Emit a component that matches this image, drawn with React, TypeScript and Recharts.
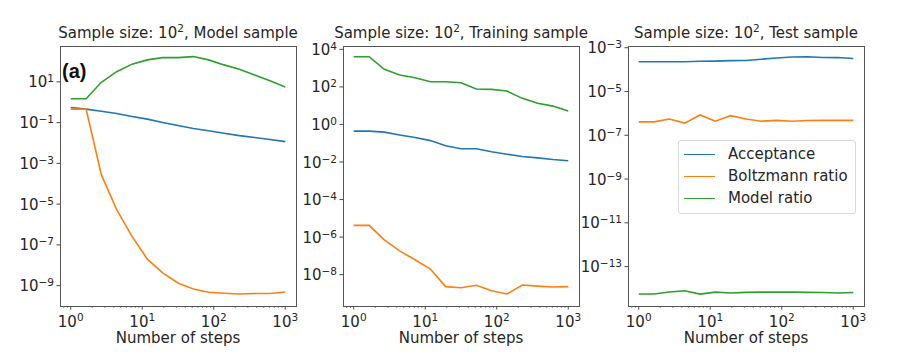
import { LineChart, Line, XAxis, YAxis, Legend } from 'recharts'

const FONT = '"DejaVu Sans", sans-serif'
const TEXT = '#262626'
const BLUE = '#1f77b4'
const ORANGE = '#ff7f0e'
const GREEN = '#2ca02c'

// number of MC steps (log-spaced)
const steps = [1, 1.64, 2.68, 4.39, 7.2, 11.8, 19.3, 31.6, 51.8, 84.8, 139, 228, 373, 611, 1000]

// (left) model sample
const modelAcceptance = [0.55, 0.46, 0.36, 0.28, 0.2, 0.148, 0.102, 0.072, 0.051, 0.04, 0.03, 0.023, 0.0186, 0.0148, 0.0117]
const modelBoltzmann = [0.46, 0.46, 2.8e-4, 5.4e-6, 2.6e-7, 2.0e-8, 4.2e-9, 1.35e-9, 6.9e-10, 4.7e-10, 4.2e-10, 3.9e-10, 4.1e-10, 4.1e-10, 4.9e-10]
const modelRatio = [1.48, 1.48, 9.5, 31.6, 74, 120, 155, 155, 174, 120, 68, 42, 22, 11.2, 5.6]

// (middle) training sample
const trainAcceptance = [0.44, 0.44, 0.39, 0.275, 0.2, 0.138, 0.074, 0.051, 0.051, 0.035, 0.026, 0.0195, 0.0166, 0.0135, 0.0117]
const trainBoltzmann = [4.2e-6, 4.2e-6, 7.2e-7, 1.86e-7, 6.2e-8, 2.0e-8, 2.3e-9, 2.0e-9, 2.7e-9, 1.38e-9, 9.3e-10, 2.8e-9, 2.45e-9, 2.2e-9, 2.3e-9]
const trainRatio = [4070, 4070, 870, 430, 310, 190, 190, 166, 78, 74, 60, 24.5, 13.5, 9.5, 5.2]

// (right) test sample
const testAcceptance = [2.3e-4, 2.3e-4, 2.3e-4, 2.3e-4, 2.4e-4, 2.45e-4, 2.57e-4, 2.63e-4, 3.0e-4, 3.4e-4, 3.8e-4, 3.9e-4, 3.6e-4, 3.55e-4, 3.2e-4]
const testBoltzmann = [4.1e-7, 4.1e-7, 5.5e-7, 3.6e-7, 8.5e-7, 4.4e-7, 7.9e-7, 5.5e-7, 4.4e-7, 4.8e-7, 4.4e-7, 4.7e-7, 4.8e-7, 4.8e-7, 4.8e-7]
const testRatio = [5.6e-15, 5.6e-15, 6.9e-15, 7.8e-15, 5.5e-15, 6.8e-15, 6.2e-15, 6.6e-15, 6.8e-15, 6.8e-15, 6.9e-15, 6.6e-15, 6.5e-15, 6.2e-15, 6.5e-15]

const xTicks = [
  0.8, 0.9, 1, 2, 3, 4, 5, 6, 7, 8, 9, 10, 20, 30, 40, 50, 60, 70, 80, 90,
  100, 200, 300, 400, 500, 600, 700, 800, 900, 1000,
]
const modelYTicks = [1e-9, 1e-7, 1e-5, 1e-3, 1e-1, 1e1]
const trainYTicks = [1e-8, 1e-6, 1e-4, 1e-2, 1, 1e2, 1e4]
const testYTicks = [1e-13, 1e-11, 1e-9, 1e-7, 1e-5, 1e-3]

const seriesNames = ['Acceptance', 'Boltzmann ratio', 'Model ratio']

const TOP = 46
const PLOT_W = 236
const PLOT_H = 260
const Y_AXIS_W = 60
const CHART_W = 300

function rows(acc: number[], boltz: number[], ratio: number[]) {
  return steps.map((s, i) => ({ step: s, acceptance: acc[i], boltzmann: boltz[i], model: ratio[i] }))
}

function exponentOf(v: number) {
  const e = Math.round(Math.log10(v))
  const major = Math.abs(v / Math.pow(10, e) - 1) < 1e-6
  return { e, major }
}

function expLabel(e: number) {
  return e < 0 ? `\u2212${-e}` : `${e}`
}

function XTick(props: any) {
  const { x, y, payload } = props
  const { e, major } = exponentOf(payload.value)
  return (
    <g>
      <line x1={x} x2={x} y1={y} y2={y + (major ? 3.5 : 2)} stroke="#333" strokeWidth={major ? 0.9 : 0.6} />
      {major && (
        <text x={x} y={y + 20.5} textAnchor="middle" fontFamily={FONT} fontSize={15} fill={TEXT}>
          10<tspan dy={-5.5} fontSize={10.5}>{expLabel(e)}</tspan>
        </text>
      )}
    </g>
  )
}

function YTick(props: any) {
  const { x, y, payload } = props
  const { e } = exponentOf(payload.value)
  return (
    <g>
      <line x1={x - 3.5} x2={x} y1={y} y2={y} stroke="#333" strokeWidth={0.9} />
      <text x={x - 6} y={y + 5.5} textAnchor="end" fontFamily={FONT} fontSize={15} fill={TEXT}>
        10<tspan dy={-5} fontSize={10.5}>{expLabel(e)}</tspan>
      </text>
    </g>
  )
}

function LegendBox({ payload }: any) {
  return (
    <div
      style={{
        border: '1px solid #d9d9d9',
        borderRadius: 3,
        background: 'rgba(255,255,255,0.85)',
        padding: '2px 6px 4px 5px',
        fontFamily: FONT,
        fontSize: 15,
        color: TEXT,
        boxSizing: 'border-box',
        width: 178,
      }}
    >
      {(payload || []).map((p: any) => (
        <div key={p.value} style={{ display: 'flex', alignItems: 'center', height: 22 }}>
          <span style={{ display: 'inline-block', width: 31, borderTop: `1.6px solid ${p.color}`, marginRight: 13 }} />
          {p.value}
        </div>
      ))}
    </div>
  )
}

interface PanelProps {
  left: number
  title: string
  data: ReturnType<typeof rows>
  yDomain: [number, number]
  yTicks: number[]
  tag?: string
  legend?: boolean
}

function Panel({ left, title, data, yDomain, yTicks, tag, legend }: PanelProps) {
  const cx = Y_AXIS_W + PLOT_W / 2
  const [before, after] = title.split('|')
  return (
    <div style={{ position: 'absolute', left, top: 0, width: CHART_W, height: 360 }}>
      <LineChart width={CHART_W} height={360} data={data} margin={{ top: TOP, right: CHART_W - Y_AXIS_W - PLOT_W, bottom: 0, left: 0 }}>
        <XAxis
          dataKey="step"
          type="number"
          scale="log"
          domain={[0.708, 1413]}
          allowDataOverflow
          ticks={xTicks}
          interval={0}
          tickSize={0}
          tickMargin={0}
          axisLine={false}
          tickLine={false}
          tick={XTick}
          height={54}
        />
        <YAxis
          type="number"
          scale="log"
          domain={yDomain}
          allowDataOverflow
          ticks={yTicks}
          interval={0}
          tickSize={0}
          tickMargin={0}
          axisLine={false}
          tickLine={false}
          tick={YTick}
          width={Y_AXIS_W}
        />
        {legend && (
          <Legend
            layout="vertical"
            align="center"
            verticalAlign="middle"
            content={<LegendBox />}
            wrapperStyle={{ left: 110, top: 140, width: 178 }}
          />
        )}
        <Line dataKey="acceptance" name={seriesNames[0]} stroke={BLUE} strokeWidth={1.6} dot={false} isAnimationActive={false} />
        <Line dataKey="boltzmann" name={seriesNames[1]} stroke={ORANGE} strokeWidth={1.6} dot={false} isAnimationActive={false} />
        <Line dataKey="model" name={seriesNames[2]} stroke={GREEN} strokeWidth={1.6} dot={false} isAnimationActive={false} />
      </LineChart>
      <svg
        width={CHART_W}
        height={360}
        style={{ position: 'absolute', left: 0, top: 0, pointerEvents: 'none', overflow: 'visible' }}
      >
        <rect x={Y_AXIS_W + 0.5} y={TOP + 0.5} width={PLOT_W} height={PLOT_H} fill="none" stroke="#555" strokeWidth={1} />
        <text x={cx} y={37.5} textAnchor="middle" fontFamily={FONT} fontSize={15} fill={TEXT}>
          {before}
          <tspan dy={-6} fontSize={10.5}>2</tspan>
          <tspan dy={6}>{after}</tspan>
        </text>
        <text x={cx} y={343} textAnchor="middle" fontFamily={FONT} fontSize={15} fill={TEXT}>
          Number of steps
        </text>
        {tag && (
          <text x={Y_AXIS_W + 2} y={78} fontFamily='"Liberation Sans", Arial, sans-serif' fontWeight="bold" fontSize={20} fill="#111">
            {tag}
          </text>
        )}
      </svg>
    </div>
  )
}

export default function App() {
  return (
    <div style={{ position: 'absolute', left: 0, top: 0, width: 897, height: 360, background: '#fff' }}>
      <Panel
        left={0}
        title="Sample size: 10|, Model sample"
        data={rows(modelAcceptance, modelBoltzmann, modelRatio)}
        yDomain={[1e-10, 575]}
        yTicks={modelYTicks}
        tag="(a)"
      />
      <Panel
        left={283}
        title="Sample size: 10|, Training sample"
        data={rows(trainAcceptance, trainBoltzmann, trainRatio)}
        yDomain={[2.14e-10, 15100]}
        yTicks={trainYTicks}
      />
      <Panel
        left={568}
        title="Sample size: 10|, Test sample"
        data={rows(testAcceptance, testBoltzmann, testRatio)}
        yDomain={[1.58e-15, 1.2e-3]}
        yTicks={testYTicks}
        legend
      />
    </div>
  )
}
